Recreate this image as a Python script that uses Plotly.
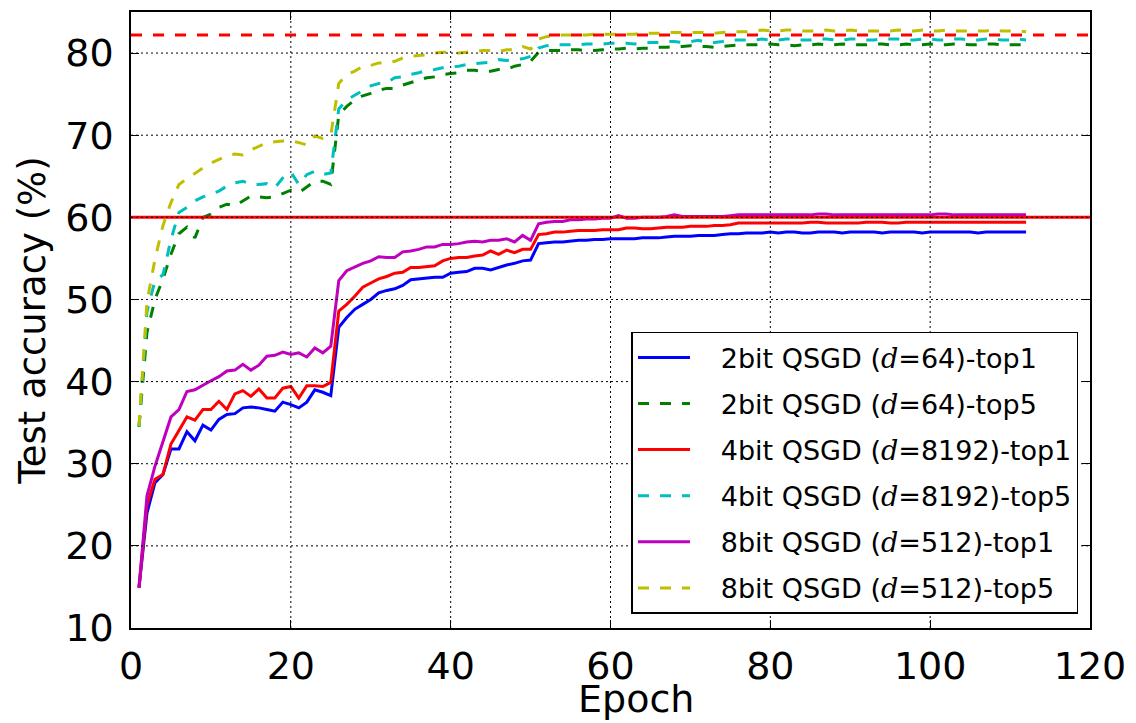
import plotly.graph_objects as go

# Test accuracy (%) per epoch for QSGD variants
epochs = list(range(1, 113))

acc_2bit_top1 = [
    14.9, 24.0, 27.7, 28.7, 31.8, 31.8, 33.9, 32.8, 34.7, 34.1,
    35.4, 36.0, 36.1, 36.8, 36.9, 36.8, 36.6, 36.4, 37.5, 37.2,
    36.8, 37.5, 39.0, 38.7, 38.3, 46.6, 47.8, 48.8, 49.4, 50.0,
    50.8, 51.1, 51.3, 51.7, 52.4, 52.5, 52.6, 52.7, 52.7, 53.2,
    53.3, 53.4, 53.8, 53.8, 53.6, 53.9, 54.2, 54.4, 54.7, 54.8,
    56.8, 56.9, 57.0, 57.0, 57.1, 57.2, 57.2, 57.3, 57.3, 57.4,
    57.4, 57.4, 57.4, 57.5, 57.5, 57.5, 57.6, 57.7, 57.7, 57.7,
    57.8, 57.8, 57.8, 57.9, 58.0, 58.0, 58.1, 58.1, 58.1, 58.2,
    58.1, 58.2, 58.2, 58.1, 58.1, 58.2, 58.2, 58.2, 58.1, 58.2,
    58.2, 58.2, 58.2, 58.1, 58.2, 58.2, 58.2, 58.2, 58.1, 58.2,
    58.2, 58.2, 58.2, 58.2, 58.2, 58.1, 58.2, 58.2, 58.2, 58.2,
    58.2, 58.2,
]

acc_2bit_top5 = [
    34.5, 46.0, 50.0, 52.5, 55.5, 58.0, 58.8, 57.5, 60.0, 60.4,
    61.2, 61.6, 61.4, 62.0, 62.6, 62.5, 62.4, 62.5, 62.9, 63.3,
    63.0, 63.7, 64.4, 64.4, 64.0, 72.5, 73.5, 74.3, 74.8, 75.1,
    75.5, 75.7, 75.7, 76.1, 76.4, 76.7, 77.0, 77.1, 77.4, 77.5,
    77.6, 77.9, 77.9, 77.8, 77.8, 78.0, 78.0, 78.4, 78.6, 79.0,
    80.1, 80.3, 80.3, 80.3, 80.4, 80.4, 80.3, 80.3, 80.4, 80.5,
    80.5, 80.6, 80.5, 80.6, 80.6, 80.7, 80.7, 80.8, 80.8, 80.9,
    80.8, 80.8, 80.7, 80.8, 80.9, 81.0, 81.0, 81.0, 81.0, 81.1,
    81.0, 81.0, 80.9, 81.0, 81.0, 81.1, 81.0, 81.0, 81.1, 81.0,
    81.0, 81.0, 81.1, 81.1, 81.0, 81.0, 81.1, 81.0, 81.0, 81.1,
    81.0, 81.0, 81.1, 81.1, 81.0, 81.0, 81.1, 81.1, 81.0, 81.0,
    81.0, 81.0,
]

acc_4bit_top1 = [
    14.9, 25.0, 28.1, 28.7, 32.4, 34.0, 35.7, 35.3, 36.6, 36.6,
    37.6, 36.6, 38.5, 38.9, 38.2, 39.1, 38.0, 38.0, 39.2, 39.4,
    38.0, 39.5, 39.5, 39.4, 39.9, 48.6, 49.4, 50.4, 51.5, 52.0,
    52.5, 52.8, 53.2, 53.3, 53.9, 53.9, 54.0, 54.1, 54.7, 55.0,
    55.1, 55.1, 55.3, 55.4, 55.9, 55.5, 56.0, 55.7, 56.1, 56.1,
    57.9, 58.0, 58.2, 58.2, 58.3, 58.4, 58.4, 58.4, 58.5, 58.5,
    58.5, 58.7, 58.7, 58.6, 58.6, 58.7, 58.8, 58.8, 58.8, 58.9,
    58.9, 58.9, 59.0, 59.0, 59.1, 59.3, 59.3, 59.3, 59.3, 59.3,
    59.3, 59.3, 59.3, 59.3, 59.4, 59.4, 59.3, 59.3, 59.3, 59.3,
    59.3, 59.4, 59.4, 59.4, 59.3, 59.3, 59.4, 59.4, 59.4, 59.4,
    59.4, 59.4, 59.4, 59.4, 59.4, 59.4, 59.4, 59.4, 59.4, 59.4,
    59.4, 59.4,
]

acc_4bit_top5 = [
    34.5, 48.5, 52.3, 53.0, 57.3, 60.6, 61.2, 62.0, 62.5, 62.8,
    63.2, 63.8, 64.2, 64.4, 64.0, 64.0, 64.1, 63.6, 64.8, 65.5,
    64.0, 65.2, 65.6, 65.2, 65.4, 73.2, 74.3, 74.9, 75.5, 76.0,
    76.3, 76.4, 77.0, 77.1, 77.4, 77.6, 77.9, 78.0, 78.2, 78.3,
    78.4, 78.6, 78.7, 78.8, 78.9, 79.2, 79.1, 79.2, 79.3, 79.6,
    80.6, 80.9, 81.0, 81.0, 81.0, 81.0, 81.1, 81.1, 81.1, 81.2,
    81.2, 81.2, 81.1, 81.2, 81.3, 81.3, 81.4, 81.4, 81.3, 81.4,
    81.55, 81.3, 81.3, 81.4, 81.6, 81.6, 81.6, 81.6, 81.7, 81.6,
    81.6, 81.7, 81.7, 81.6, 81.6, 81.7, 81.7, 81.6, 81.6, 81.7,
    81.7, 81.6, 81.6, 81.7, 81.7, 81.7, 81.6, 81.6, 81.7, 81.7,
    81.6, 81.6, 81.7, 81.7, 81.6, 81.6, 81.7, 81.7, 81.6, 81.6,
    81.7, 81.6,
]

acc_8bit_top1 = [
    14.9, 26.1, 29.7, 32.6, 35.7, 36.6, 38.8, 39.0, 39.5, 40.1,
    40.6, 41.3, 41.4, 42.1, 41.4, 42.0, 43.1, 43.2, 43.6, 43.3,
    43.5, 43.0, 44.1, 43.5, 44.3, 52.3, 53.5, 54.0, 54.4, 54.7,
    55.2, 55.1, 55.1, 55.8, 55.9, 56.1, 56.4, 56.4, 56.7, 56.7,
    56.8, 57.0, 57.1, 57.0, 57.2, 57.2, 57.4, 57.0, 57.8, 57.2,
    59.2, 59.4, 59.5, 59.5, 59.7, 59.7, 59.8, 59.8, 59.9, 59.9,
    60.2, 59.9, 59.9, 60.0, 60.0, 60.0, 60.1, 60.3, 60.1, 60.1,
    60.1, 60.1, 60.1, 60.1, 60.2, 60.3, 60.3, 60.3, 60.3, 60.3,
    60.3, 60.3, 60.3, 60.3, 60.3, 60.4, 60.4, 60.3, 60.3, 60.3,
    60.3, 60.3, 60.3, 60.3, 60.3, 60.3, 60.3, 60.3, 60.3, 60.3,
    60.4, 60.4, 60.3, 60.3, 60.3, 60.3, 60.3, 60.3, 60.3, 60.3,
    60.3, 60.3,
]

acc_8bit_top5 = [
    34.6, 49.7, 54.9, 59.0, 61.8, 64.0, 64.7, 65.4, 66.0, 66.6,
    67.1, 67.5, 67.7, 67.6, 68.2, 68.7, 69.1, 69.2, 69.3, 69.3,
    69.1, 68.8, 69.9, 69.6, 70.0, 76.3, 77.4, 77.8, 78.4, 78.5,
    78.8, 78.8, 79.0, 79.4, 79.6, 79.7, 79.8, 80.0, 80.1, 80.1,
    80.0, 80.1, 80.2, 80.3, 80.3, 80.2, 80.4, 80.4, 80.8, 80.5,
    81.7, 82.0, 82.1, 82.2, 82.2, 82.2, 82.2, 82.3, 82.3, 82.3,
    82.3, 82.3, 82.3, 82.4, 82.4, 82.4, 82.5, 82.5, 82.5, 82.5,
    82.5, 82.5, 82.4, 82.5, 82.6, 82.6, 82.6, 82.7, 82.8, 82.7,
    82.7, 82.8, 82.8, 82.7, 82.7, 82.7, 82.8, 82.7, 82.7, 82.8,
    82.7, 82.7, 82.7, 82.7, 82.7, 82.8, 82.7, 82.7, 82.8, 82.7,
    82.7, 82.8, 82.7, 82.7, 82.7, 82.7, 82.7, 82.8, 82.7, 82.7,
    82.7, 82.6,
]

# Full-precision baselines
baseline_top1 = 60.0
baseline_top5 = 82.2

x_ticks = [0, 20, 40, 60, 80, 100, 120]
y_ticks = [10, 20, 30, 40, 50, 60, 70, 80]

D = '<span style="font-family:\'DejaVu Serif\'"><i>d</i></span>'
PAD = "\u00a0\u00a0\u00a0"
series = [
    ("2bit QSGD (" + D + "=64)-top1", acc_2bit_top1, "#0000ff", "solid"),
    ("2bit QSGD (" + D + "=64)-top5", acc_2bit_top5, "#008000", "11px,11px"),
    ("4bit QSGD (" + D + "=8192)-top1", acc_4bit_top1, "#ff0000", "solid"),
    ("4bit QSGD (" + D + "=8192)-top5", acc_4bit_top5, "#00bfbf", "11px,11px"),
    ("8bit QSGD (" + D + "=512)-top1", acc_8bit_top1, "#bf00bf", "solid"),
    ("8bit QSGD (" + D + "=512)-top5", acc_8bit_top5, "#bfbf00", "11px,11px"),
]

fig = go.Figure()
for i, (name, vals, color, dash) in enumerate(series):
    fig.add_trace(go.Scatter(
        x=epochs, y=vals, mode="lines", name=PAD + name, legendgroup=f"g{i}",
        line=dict(color=color, width=3, dash=dash),
    ))

# Baseline reference lines
fig.add_shape(type="line", xref="paper", x0=0, x1=1, y0=baseline_top1, y1=baseline_top1,
              line=dict(color="#ff0000", width=3), layer="above")
fig.add_shape(type="line", xref="paper", x0=0, x1=1, y0=baseline_top5, y1=baseline_top5,
              line=dict(color="#ff0000", width=3, dash="11px,11px"), layer="above")

# Dotted grid drawn over the data
grid = dict(color="black", width=1, dash="2px,3px")
for xv in x_ticks[1:-1]:
    fig.add_shape(type="line", yref="paper", x0=xv, x1=xv, y0=0, y1=1, line=grid, layer="above")
for yv in y_ticks[1:]:
    fig.add_shape(type="line", xref="paper", x0=0, x1=1, y0=yv, y1=yv, line=grid, layer="above")

axis_common = dict(
    showgrid=False, zeroline=False, showline=True, linecolor="black", linewidth=1.5,
    mirror="ticks", ticks="inside", ticklen=8, tickwidth=1.2, tickcolor="black",
    tickfont=dict(size=38, color="black"),
)

fig.update_layout(
    width=1136, height=723,
    margin=dict(l=131, r=46, t=12, b=95, autoexpand=False),
    paper_bgcolor="white", plot_bgcolor="white",
    font=dict(family="DejaVu Sans", color="black"),
    xaxis=dict(range=[0, 120], tickvals=x_ticks, ticklabelstandoff=4, **axis_common),
    yaxis=dict(range=[10, 85], tickvals=y_ticks, ticklabelstandoff=8,
               title=dict(text="Test accuracy (%)", font=dict(size=37), standoff=8), **axis_common),
    legend=dict(
        x=0.988, y=0.023, xanchor="right", yanchor="bottom",
        bgcolor="white", bordercolor="black", borderwidth=1.5,
        font=dict(size=27, color="black"), traceorder="grouped",
        tracegroupgap=8, itemwidth=52,
    ),
    showlegend=True,
)

# x-axis title
fig.add_annotation(text="Epoch", xref="paper", yref="paper", x=0.527, y=-0.076,
                   xanchor="center", yanchor="top", showarrow=False,
                   font=dict(size=38, color="black"))

fig.write_html("out.html")
